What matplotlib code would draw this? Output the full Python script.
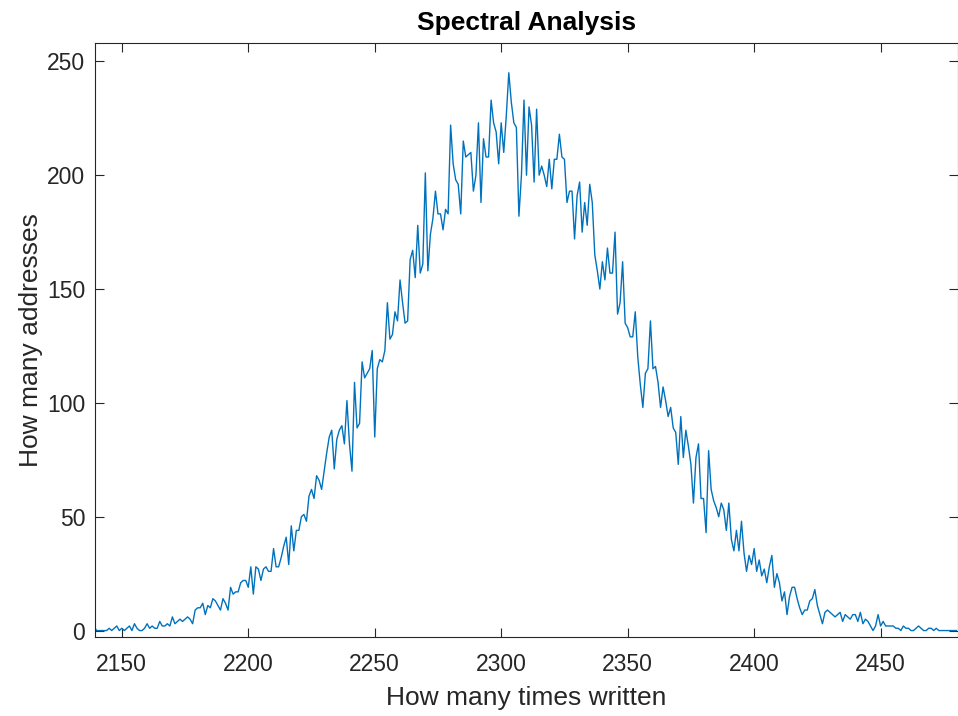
import numpy as np
import matplotlib
matplotlib.use("Agg")
import matplotlib.pyplot as plt

# =====================
# Data
# =====================

first_write_count = 2139  # smallest "times written" value on the x axis

counts_left_tail = [2, 0, 0, 0, 0, 0, 1, 0, 1, 2, 0, 1, 0, 1, 2, 0, 3, 1, 0, 0,
                    1, 3, 1, 2, 1, 1, 4, 2, 2, 3, 2, 6, 3, 4]
counts_low_rise = [5, 4, 5, 6, 5, 3, 9, 10, 10, 12, 7, 11, 10, 14, 13, 11, 9, 14,
                   12, 9, 19, 16, 17, 17, 21, 22, 22, 19, 28, 16, 28, 27, 22, 27,
                   28, 26, 26]
counts_mid_rise = [36, 28, 28, 32, 37, 41, 29, 46, 35, 44, 44, 50, 51, 48, 59, 62,
                   58, 68, 66, 62, 70, 78, 85, 88, 71, 84, 88, 90, 82, 101, 82, 70,
                   109, 89, 91, 118, 111, 113, 115, 123, 85, 115, 119, 118, 123]
counts_upper_rise = [144, 128, 130, 140, 136, 154, 144, 135, 136, 163, 167, 155,
                     178, 157, 161, 201, 158, 174, 181, 193, 183, 183, 176, 185,
                     183, 222, 205, 198, 196, 183, 215, 208, 209, 210, 193, 200,
                     223, 188, 216, 208, 208, 233, 223, 219, 205, 223, 210, 226,
                     245]
counts_upper_fall = [232, 223, 221, 182, 200, 233, 200, 230, 222, 197, 229, 200,
                     204, 200, 195, 207, 194, 207, 207, 218, 208, 207, 188, 193,
                     193, 172, 191, 197, 175, 188, 178, 196, 188, 165, 158, 150,
                     162, 154, 168, 157, 157, 175, 139, 144, 162, 135, 133, 129]
counts_mid_fall = [129, 140, 120, 108, 98, 113, 115, 136, 115, 116, 109, 98, 107,
                   101, 94, 98, 89, 87, 73, 94, 76, 88, 81, 73, 56, 76, 82, 58, 58,
                   43, 79, 62, 57, 54, 50, 56, 53, 44, 56, 40, 35, 44, 35, 48, 34]
counts_right_tail = [26, 33, 29, 36, 26, 31, 24, 27, 21, 28, 33, 19, 25, 21, 13, 17,
                     7, 15, 19, 19, 14, 10, 7, 9, 9, 13, 14, 18, 11, 7, 3, 8, 9, 8,
                     7, 6, 7, 8, 4, 7, 6, 5, 7, 7, 4, 8, 3, 5, 4, 2, 0, 2, 7, 2, 4,
                     2, 2, 2, 2, 1, 1, 0, 2, 1, 1, 0, 0, 1, 2, 1, 0, 0, 1, 1, 0, 1,
                     0, 0, 0, 0, 0, 0, 0, 0]

counts = (counts_left_tail + counts_low_rise + counts_mid_rise + counts_upper_rise
          + counts_upper_fall + counts_mid_fall + counts_right_tail)
times_written = np.arange(first_write_count, first_write_count + len(counts))

x_ticks = [2150, 2200, 2250, 2300, 2350, 2400, 2450]
y_ticks = [0, 50, 100, 150, 200, 250]

# =====================
# Style
# =====================

plt.rcParams["font.family"] = ["Liberation Sans", "DejaVu Sans"]
AXIS_COLOR = "#262626"
LINE_COLOR = "#0072BD"

# =====================
# Plot
# =====================

fig = plt.figure(figsize=(9.58, 7.16), dpi=100)
ax = fig.add_axes([95 / 958, 1 - 636.7 / 716, (957.5 - 95) / 958, (636.7 - 42.7) / 716])

ax.plot(times_written, counts, color=LINE_COLOR, linewidth=1.0)

ax.set_xlim(times_written[0] + 0.4, times_written[-1] + 0.4)
ax.set_ylim(-2.7, 258.2)
ax.set_xticks(x_ticks)
ax.set_yticks(y_ticks)

ax.tick_params(direction="in", top=True, right=True, length=6.5, width=0.8,
               colors=AXIS_COLOR, labelsize=16.5)
ax.tick_params(axis="x", pad=12)
ax.tick_params(axis="y", pad=7)
for spine in ax.spines.values():
    spine.set_color(AXIS_COLOR)
    spine.set_linewidth(0.8)

ax.set_title("Spectral Analysis", fontsize=19, fontweight="bold", color="black", pad=9)
ax.set_xlabel("How many times written", fontsize=19, color=AXIS_COLOR, labelpad=7)
ax.set_ylabel("How many addresses", fontsize=19, color=AXIS_COLOR, labelpad=3)

fig.savefig("out.png", dpi=100)
